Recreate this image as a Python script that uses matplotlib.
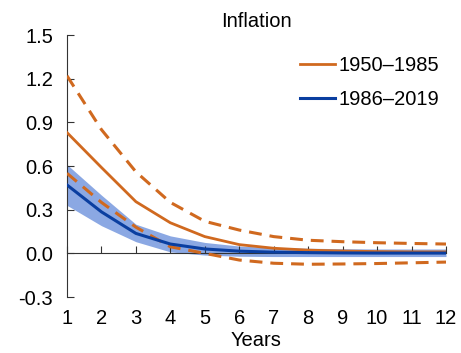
import matplotlib.pyplot as plt
import numpy as np

plt.rcParams['font.family'] = ['Liberation Sans', 'DejaVu Sans']

years = np.arange(1, 13)

# 1950-1985 response with error bands
early_mid = [0.83, 0.59, 0.355, 0.21, 0.115, 0.06, 0.035, 0.022, 0.016, 0.012, 0.01, 0.01]
early_hi = [1.22, 0.85, 0.56, 0.35, 0.22, 0.16, 0.115, 0.09, 0.08, 0.073, 0.068, 0.064]
early_lo = [0.55, 0.35, 0.18, 0.045, 0.0, -0.046, -0.068, -0.075, -0.073, -0.07, -0.065, -0.06]

# 1986-2019 response with shaded band
late_mid = [0.47, 0.285, 0.137, 0.064, 0.03, 0.015, 0.008, 0.005, 0.003, 0.002, 0.002, 0.002]
late_hi = [0.61, 0.40, 0.20, 0.12, 0.075, 0.05, 0.04, 0.035, 0.032, 0.03, 0.03, 0.03]
late_lo = [0.33, 0.19, 0.08, 0.01, -0.012, -0.02, -0.022, -0.022, -0.022, -0.022, -0.022, -0.022]

orange = '#D0691F'
blue = '#0A3EA0'
band = '#8BA8E3'

fig = plt.figure(figsize=(4.61, 3.53), dpi=100)
ax = fig.add_axes([0.1453, 0.1586, 0.8222, 0.7422])

ax.fill_between(years, late_lo, late_hi, color=band, lw=0, zorder=1)
ax.plot(years, early_hi, color=orange, lw=2.2, ls=(0, (4.2, 2.6)), zorder=3)
ax.plot(years, early_lo, color=orange, lw=2.2, ls=(0, (4.2, 2.6)), zorder=3)
ax.plot(years, early_mid, color=orange, lw=2, label='1950–1985', zorder=3)
ax.plot(years, late_mid, color=blue, lw=2.2, label='1986–2019', zorder=4)

ax.set_xlim(1, 12)
ax.set_ylim(-0.3, 1.5)
ax.set_xticks(years)
ax.set_yticks(np.arange(-0.3, 1.51, 0.3))
ax.set_yticklabels(['-0.3', '0.0', '0.3', '0.6', '0.9', '1.2', '1.5'])

for s in ['top', 'right']:
    ax.spines[s].set_visible(False)
ax.spines['bottom'].set_position(('data', 0))
ax.spines['bottom'].set_color('#333333')
ax.spines['left'].set_color('#333333')
ax.spines['bottom'].set_zorder(2)

ax.tick_params(axis='y', direction='in', length=5, color='#333333', labelsize=14.5, pad=10)
ax.tick_params(axis='x', direction='in', length=5, color='#333333', labelsize=14.5, pad=40)

ax.set_title('Inflation', fontsize=14.5, pad=6)
ax.set_xlabel('Years', fontsize=14.5, labelpad=2)

ax.legend(loc='upper right', frameon=False, fontsize=14.5, handlelength=1.7,
          handletextpad=0.2, borderaxespad=0.3, labelspacing=0.75,
          bbox_to_anchor=(1.02, 0.975))

fig.savefig('out.png', dpi=100)
